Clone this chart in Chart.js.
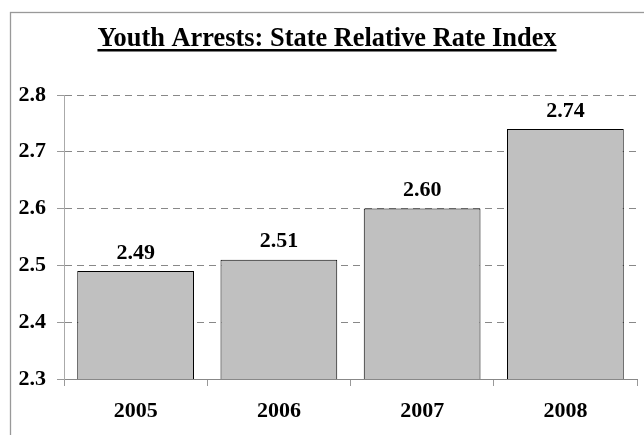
<!DOCTYPE html>
<html>
<head>
<meta charset="utf-8">
<script src="https://cdn.jsdelivr.net/npm/chart.js@4"></script>
<style>
  html, body { margin: 0; padding: 0; background: #fff; }
  #wrap { width: 644px; height: 435px; position: relative; }
</style>
</head>
<body>
<div id="wrap"><canvas id="rri-chart" width="644" height="435"></canvas></div>
<script>
const years = ['2005', '2006', '2007', '2008'];
const rriValues = [2.49, 2.51, 2.60, 2.74];
const yTicks = [2.3, 2.4, 2.5, 2.6, 2.7, 2.8];
const chartTitle = 'Youth Arrests: State Relative Rate Index';

const SERIF = "'Times New Roman', 'Liberation Serif', serif";

// frame + underlined title
const framePlugin = {
  id: 'frame',
  beforeDraw(chart) {
    const c = chart.ctx;
    c.save();
    c.fillStyle = '#fff';
    c.fillRect(0, 0, chart.width, chart.height);
    c.strokeStyle = '#999';
    c.lineWidth = 1.3;
    c.strokeRect(10.5, 12.5, 700, 500);

    c.font = 'bold 26.4px ' + SERIF;
    c.fillStyle = '#000';
    c.textAlign = 'center';
    c.textBaseline = 'alphabetic';
    const cx = 327, base = 46;
    c.fillText(chartTitle, cx, base);
    const w = c.measureText(chartTitle).width;
    c.fillRect(cx - w / 2, base + 3, w, 2.5);
    c.restore();
  }
};

// value labels above bars
const valueLabels = {
  id: 'valueLabels',
  afterDatasetsDraw(chart) {
    const c = chart.ctx;
    const meta = chart.getDatasetMeta(0);
    c.save();
    c.font = 'bold 22px ' + SERIF;
    c.fillStyle = '#000';
    c.textAlign = 'center';
    c.textBaseline = 'alphabetic';
    meta.data.forEach((bar, i) => {
      c.fillText(rriValues[i].toFixed(2), bar.x, bar.y - 12.5);
    });
    c.restore();
  }
};

new Chart(document.getElementById('rri-chart'), {
  type: 'bar',
  data: {
    labels: years,
    datasets: [{
      data: rriValues,
      backgroundColor: '#C0C0C0',
      borderColor: '#000',
      borderWidth: 1,
      categoryPercentage: 1,
      barPercentage: 0.815
    }]
  },
  options: {
    responsive: false,
    animation: false,
    layout: { padding: { top: 95, right: 7, left: 0, bottom: 0 } },
    plugins: { legend: { display: false }, tooltip: { enabled: false }, title: { display: false } },
    scales: {
      x: {
        grid: { display: true, offset: true, drawOnChartArea: false, color: '#999', tickLength: 7 },
        border: { color: '#888', width: 1 },
        ticks: { color: '#000', font: { family: SERIF, size: 22, weight: 'bold' }, padding: 12 },
        afterFit(scale) { scale.height = 56; }
      },
      y: {
        min: 2.3,
        max: 2.8,
        afterBuildTicks(scale) { scale.ticks = yTicks.map(v => ({ value: v })); },
        grid: { color: '#888', tickBorderDash: [], tickLength: 7, tickColor: '#999' },
        // in v4 the grid line dash is read from border.dash
        border: { color: '#aaa', width: 1, dash: [7, 5] },
        ticks: {
          color: '#000',
          font: { family: SERIF, size: 22, weight: 'bold' },
          padding: 11,
          callback: v => Number(v).toFixed(1)
        },
        afterFit(scale) { scale.width = 64; }
      }
    }
  },
  plugins: [framePlugin, valueLabels]
});
</script>
</body>
</html>
